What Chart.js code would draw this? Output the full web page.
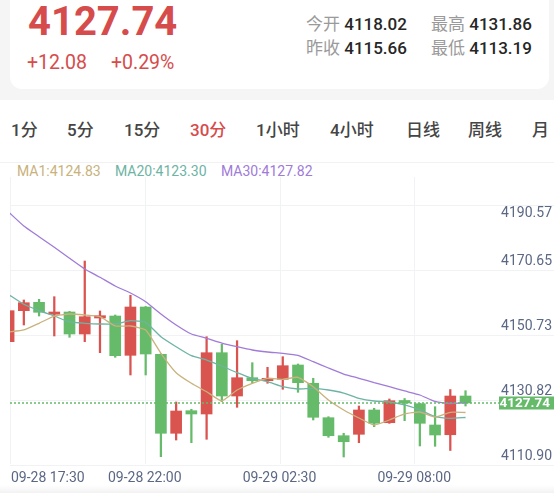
<!DOCTYPE html>
<html lang="zh">
<head>
    <meta charset="UTF-8">
    <title>30分 K线</title>
    <script src="https://cdn.jsdelivr.net/npm/chart.js"></script>
    <style>
        body {
            margin: 0;
            width: 554px;
            height: 493px;
            background: #f5f5f5;
            font-family: Roboto, "Noto Sans CJK SC", sans-serif;
            position: relative;
            overflow: hidden;
        }
        .abs { position: absolute; white-space: nowrap; }
        .card {
            position: absolute;
            left: 10px;
            top: -12px;
            width: 539px;
            height: 101px;
            background: #fff;
            border-radius: 12px;
        }
        .price { left: 28px; top: 2px; font-size: 40px; line-height: 40px; font-weight: 700; color: #d64c4c; }
        .chg { top: 53px; font-size: 19.5px; line-height: 20px; color: #d64c4c; }
        .q { font-size: 17px; line-height: 18px; }
        .q .k { color: #9a9a9a; }
        .q .v { color: #262626; font-weight: 500; }
        .panel {
            position: absolute;
            left: 0;
            top: 100px;
            width: 554px;
            height: 393px;
            background: linear-gradient(to bottom, #fff 0, #fff 385px, #f2f2f2 393px);
        }
        .tab { top: 121px; font-size: 17px; line-height: 18px; color: #454545; font-weight: 500; }
        .tab.on { color: #d64c4c; }
        .sep { position: absolute; left: 0; top: 162px; width: 554px; height: 1px; background: #f2f2f2; }
        .ma { top: 163px; font-size: 14px; line-height: 16px; }
        #kline { position: absolute; left: 0; top: 170px; }
    </style>
</head>
<body>
    <div class="card"></div>
    <div class="abs price">4127.74</div>
    <div class="abs chg" style="left:27px">+12.08</div>
    <div class="abs chg" style="left:111px">+0.29%</div>
    <div class="abs q" style="left:306px;top:15px"><span class="k">今开</span> <span class="v">4118.02</span></div>
    <div class="abs q" style="left:431px;top:15px"><span class="k">最高</span> <span class="v">4131.86</span></div>
    <div class="abs q" style="left:306px;top:39px"><span class="k">昨收</span> <span class="v">4115.66</span></div>
    <div class="abs q" style="left:431px;top:39px"><span class="k">最低</span> <span class="v">4113.19</span></div>

    <div class="panel"></div>
    <div class="abs tab" style="left:11px">1分</div>
    <div class="abs tab" style="left:67px">5分</div>
    <div class="abs tab" style="left:124px">15分</div>
    <div class="abs tab on" style="left:190px">30分</div>
    <div class="abs tab" style="left:256px">1小时</div>
    <div class="abs tab" style="left:330px">4小时</div>
    <div class="abs tab" style="left:406px">日线</div>
    <div class="abs tab" style="left:468px">周线</div>
    <div class="abs tab" style="left:532px">月</div>
    <div class="sep"></div>
    <div class="abs ma" style="left:17px;color:#c9b27c">MA1:4124.83</div>
    <div class="abs ma" style="left:115px;color:#6db4a4">MA20:4123.30</div>
    <div class="abs ma" style="left:221px;color:#a07bd8">MA30:4127.82</div>

    <canvas id="kline" width="554" height="320"></canvas>

    <script>
        // 30分钟K线数据 (开 高 低 收)
        const opens  = [4146.52, 4156.02, 4158.59, 4154.92, 4155.62, 4148.88, 4153.78, 4154.39, 4142.35, 4157.15,
                        4142.66, 4118.46, 4125.38, 4124.37, 4143.15, 4129.88, 4135.49, 4134.57, 4135.00, 4139.38,
                        4133.78, 4123.24, 4117.72, 4118.15, 4125.60, 4121.70, 4128.51, 4127.53, 4121.00, 4118.02, 4129.88];
        const highs  = [4156.02, 4159.30, 4159.51, 4160.31, 4155.80, 4171.24, 4155.93, 4154.70, 4160.74, 4157.30,
                        4142.80, 4128.05, 4125.81, 4148.05, 4145.72, 4146.83, 4140.09, 4138.68, 4141.93, 4139.69,
                        4135.31, 4123.54, 4118.46, 4126.82, 4126.12, 4128.97, 4129.12, 4127.60, 4126.61, 4131.86, 4131.51];
        const lows   = [4146.52, 4151.64, 4154.39, 4148.27, 4147.87, 4146.52, 4143.15, 4141.74, 4136.32, 4136.32,
                        4111.29, 4116.40, 4115.58, 4116.62, 4128.14, 4126.42, 4133.96, 4133.78, 4131.94, 4131.02,
                        4122.53, 4117.23, 4111.20, 4115.58, 4120.48, 4121.50, 4122.32, 4114.57, 4114.47, 4113.19, 4126.82];
        const closes = [4156.02, 4158.47, 4155.53, 4155.62, 4148.88, 4154.18, 4154.49, 4142.23, 4157.15, 4142.75,
                        4118.46, 4125.29, 4124.37, 4143.15, 4129.88, 4135.49, 4134.57, 4135.31, 4139.17, 4133.96,
                        4123.36, 4117.72, 4115.88, 4125.60, 4121.52, 4128.44, 4127.74, 4121.52, 4117.94, 4129.88, 4127.74];

        // 均线
        const ma1  = [4149.49, 4150.11, 4152.16, 4154.39, 4155.01, 4154.70, 4154.18, 4151.33, 4151.33, 4150.11,
                      4142.97, 4137.02, 4133.78, 4131.20, 4128.35, 4131.72, 4133.78, 4135.31, 4135.00, 4135.61,
                      4132.73, 4128.66, 4125.60, 4123.14, 4121.00, 4122.53, 4124.37, 4124.98, 4123.45, 4124.89, 4124.83];
        const ma20 = [4160.98, 4157.98, 4156.02, 4154.39, 4152.56, 4152.16, 4151.94, 4151.94, 4152.95, 4152.46,
                      4148.05, 4144.99, 4142.23, 4140.91, 4139.08, 4137.02, 4135.31, 4134.27, 4132.73, 4132.03,
                      4132.24, 4131.72, 4130.80, 4129.18, 4128.35, 4128.05, 4127.13, 4125.60, 4123.54, 4123.05, 4123.30];
        const ma30 = [4186.26, 4181.97, 4178.69, 4175.44, 4172.07, 4168.79, 4166.25, 4163.59, 4161.44, 4158.78,
                      4155.01, 4151.64, 4148.88, 4147.56, 4146.12, 4144.99, 4143.98, 4143.37, 4142.97, 4142.35,
                      4140.39, 4138.46, 4136.62, 4135.31, 4133.96, 4132.73, 4131.42, 4130.19, 4128.20, 4127.59, 4127.82];

        // 坐标轴标签
        const yTicks = [4190.57, 4170.65, 4150.73, 4130.82, 4110.90];
        const xTickLabels = ['09-28 17:30', '09-28 22:00', '09-29 02:30', '09-29 08:00'];
        const lastPrice = 4127.74;

        const RED = '#d9534f';
        const GREEN = '#66bb6a';
        const GRID = '#f1f2f4';
        const AXIS_TEXT = '#5b6884';
        const GRID_DROP = 7;

        const idx = closes.map((_, i) => i);
        const candleColors = idx.map(i => closes[i] >= opens[i] ? RED : GREEN);

        // 网格、坐标文字、现价线
        const klinePlugin = {
            id: 'kline',
            beforeDatasetsDraw(chart) {
                const { ctx, chartArea: a, scales: { x, y } } = chart;
                ctx.save();
                ctx.strokeStyle = GRID;
                ctx.lineWidth = 1;
                for (let k = 0; k < xTickLabels.length; k++) {
                    const px = Math.round(x.getPixelForValue(x.min + k * (x.max - x.min) / 4)) + 0.5;
                    ctx.beginPath();
                    ctx.moveTo(px, a.top);
                    ctx.lineTo(px, a.bottom);
                    ctx.stroke();
                }
                yTicks.forEach(v => {
                    const py = Math.round(y.getPixelForValue(v) + GRID_DROP) + 0.5;
                    ctx.beginPath();
                    ctx.moveTo(a.left, py);
                    ctx.lineTo(chart.width, py);
                    ctx.stroke();
                });
                ctx.restore();
            },
            afterDatasetsDraw(chart) {
                const { ctx, chartArea: a, scales: { x, y } } = chart;
                ctx.save();
                ctx.font = '14px Roboto';
                ctx.fillStyle = AXIS_TEXT;
                ctx.textAlign = 'right';
                ctx.textBaseline = 'middle';
                yTicks.forEach((v, i) => {
                    const gy = y.getPixelForValue(v) + GRID_DROP;
                    ctx.fillText(v.toFixed(2), chart.width - 2, i === 0 ? gy + 9 : gy - 8);
                });
                xTickLabels.forEach((t, k) => {
                    const px = x.getPixelForValue(x.min + k * (x.max - x.min) / 4);
                    ctx.textAlign = k === 0 ? 'left' : 'center';
                    ctx.fillText(t, k === 0 ? px + 1 : px, a.bottom + 14);
                });

                // 现价
                const py = Math.round(y.getPixelForValue(lastPrice));
                const tagLeft = 499;
                ctx.strokeStyle = GREEN;
                ctx.lineWidth = 1.4;
                ctx.setLineDash([2, 2]);
                ctx.beginPath();
                ctx.moveTo(a.left, py);
                ctx.lineTo(tagLeft, py);
                ctx.stroke();
                ctx.setLineDash([]);
                ctx.fillStyle = GREEN;
                ctx.fillRect(tagLeft, py - 6.5, chart.width - tagLeft, 13);
                ctx.fillStyle = '#fff';
                ctx.font = 'bold 13.5px Roboto';
                ctx.textAlign = 'right';
                ctx.fillText(lastPrice.toFixed(2), chart.width - 4, py + 0.5);
                ctx.restore();
            }
        };

        const line = (data, color) => ({
            type: 'line',
            data: idx.map(i => ({ x: i, y: data[i] })),
            borderColor: color,
            borderWidth: 1.3,
            pointRadius: 0,
            tension: 0.15,
            order: 0
        });

        new Chart(document.getElementById('kline'), {
            type: 'bar',
            data: {
                datasets: [
                    line(ma1, '#c9b27c'),
                    line(ma20, '#6db4a4'),
                    line(ma30, '#a07bd8'),
                    {
                        data: idx.map(i => ({ x: i, y: [opens[i], closes[i]] })),
                        backgroundColor: candleColors,
                        barThickness: 11,
                        minBarLength: 1,
                        grouped: false,
                        order: 1
                    },
                    {
                        data: idx.map(i => ({ x: i, y: [lows[i], highs[i]] })),
                        backgroundColor: candleColors,
                        barThickness: 1.6,
                        grouped: false,
                        order: 2
                    }
                ]
            },
            options: {
                responsive: false,
                animation: false,
                layout: { padding: { left: 10, right: 5, top: 7, bottom: 26 } },
                plugins: { legend: { display: false }, tooltip: { enabled: false } },
                scales: {
                    x: { type: 'linear', display: false, offset: false, min: 0.092, max: 35.48 },
                    y: { display: false, min: 4109.05, max: 4196.98 }
                }
            },
            plugins: [klinePlugin]
        });
    </script>
</body>
</html>
